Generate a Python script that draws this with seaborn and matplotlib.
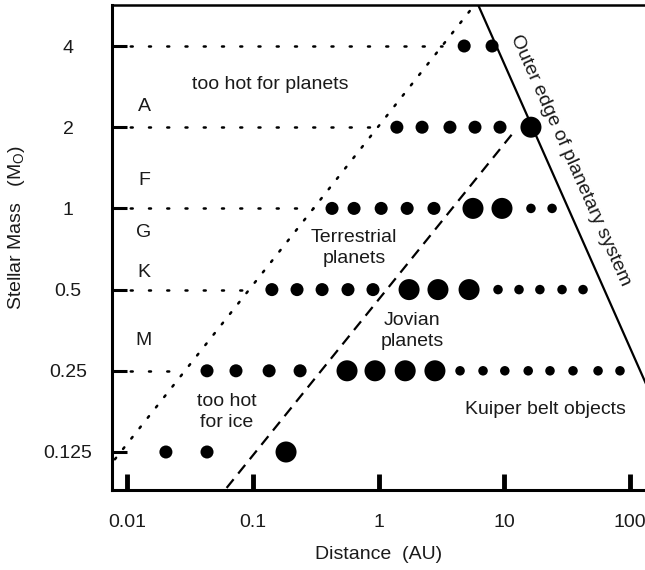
import numpy as np
import pandas as pd
import matplotlib
matplotlib.use('Agg')
import matplotlib.pyplot as plt
import seaborn as sns
from matplotlib.ticker import FixedLocator, FixedFormatter, NullLocator

# Stellar masses (rows) and tick labels
masses = [4, 2, 1, 0.5, 0.25, 0.125]
mass_labels = ['4', '2', '1', '0.5', '0.25', '0.125']
dist_ticks = [0.01, 0.1, 1, 10, 100]
dist_labels = ['0.01', '0.1', '1', '10', '100']

# Bodies on each row: distance (AU) and kind
dist_4 = [4.8, 8.0]
kind_4 = ['rocky', 'rocky']
dist_2 = [1.40, 2.22, 3.70, 5.85, 9.25, 16.3]
kind_2 = ['rocky'] * 5 + ['giant']
dist_1 = [0.427, 0.639, 1.05, 1.69, 2.76, 5.64, 9.59, 16.3, 24.0]
kind_1 = ['rocky'] * 5 + ['giant'] * 2 + ['icy'] * 2
dist_05 = [0.142, 0.225, 0.356, 0.572, 0.904, 1.75, 2.97, 5.25,
           8.92, 13.1, 19.2, 28.8, 42.3]
kind_05 = ['rocky'] * 5 + ['giant'] * 3 + ['icy'] * 5
dist_025 = [0.0433, 0.0736, 0.135, 0.238, 0.562, 0.938, 1.63, 2.81,
            4.45, 6.78, 10.1, 15.5, 23.1, 35.2, 55.7, 83.2]
kind_025 = ['rocky'] * 4 + ['giant'] * 4 + ['icy'] * 8
dist_0125 = [0.0204, 0.0433, 0.184]
kind_0125 = ['rocky', 'rocky', 'giant']

# Boundary lines (distance, mass) end points
hot_line_d = [0.0051, 5.84]     # inner edge, too hot for planets
hot_line_m = [0.09, 5.7]
ice_line_d = [0.062, 11.7]      # snow line
ice_line_m = [0.092, 1.9]
edge_line_d = [6.2, 317]        # outer edge of planetary system
edge_line_m = [5.68, 0.0903]

rows = [(4, dist_4, kind_4), (2, dist_2, kind_2), (1, dist_1, kind_1),
        (0.5, dist_05, kind_05), (0.25, dist_025, kind_025),
        (0.125, dist_0125, kind_0125)]
df = pd.concat([pd.DataFrame({'dist': d, 'mass': m, 'kind': k}) for m, d, k in rows],
               ignore_index=True)

sns.set_style('ticks')
plt.rcParams['font.family'] = ['Liberation Sans', 'DejaVu Sans']
plt.rcParams['mathtext.fontset'] = 'custom'
plt.rcParams['mathtext.rm'] = 'Liberation Sans'
plt.rcParams['mathtext.it'] = 'Liberation Sans'
ink = '#1a1a1a'

fig = plt.figure(figsize=(6.45, 5.70), dpi=100)
ax = fig.add_axes([112 / 645, 80 / 570, 533 / 645, 485 / 570])
ax.set_xscale('log')
ax.set_yscale('log', base=2)
ax.set_xlim(10 ** -2.119, 10 ** 2.119)
ax.set_ylim(2 ** -3.468, 2 ** 2.505)

# horizontal dotted guides up to the inner boundary
hot_logd = np.log10(hot_line_d)
hot_logm = np.log2(hot_line_m)
for m in masses:
    d_end = 10 ** np.interp(np.log2(m), hot_logm, hot_logd)
    ax.plot([ax.get_xlim()[0], d_end], [m, m], color='black', lw=1.8,
            linestyle=(0, (0.8, 6.5)), dash_capstyle='round')

ax.plot(hot_line_d, hot_line_m, color='black', lw=1.8,
        linestyle=(0, (0.8, 4.5)), dash_capstyle='round')
ax.plot(ice_line_d, ice_line_m, color='black', lw=1.6, linestyle=(0, (5, 3.3)))
ax.plot(edge_line_d, edge_line_m, color='black', lw=1.6)

sns.scatterplot(data=df, x='dist', y='mass', size='kind',
                sizes={'rocky': 88, 'giant': 229, 'icy': 47},
                color='black', linewidth=0, legend=False, ax=ax, zorder=3)

fs = 14
ax.text(0.137, 2.87, 'too hot for planets', fontsize=fs, color=ink, ha='center', va='center')
for lab, m in zip(['A', 'F', 'G', 'K', 'M'], [2.38, 1.27, 0.811, 0.581, 0.325]):
    ax.text(0.01365, m, lab, fontsize=fs, color=ink, ha='center', va='center')
ax.text(0.638, 0.713, 'Terrestrial\nplanets', fontsize=fs, color=ink, ha='center',
        va='center', linespacing=1.3)
ax.text(1.85, 0.351, 'Jovian\nplanets', fontsize=fs, color=ink, ha='center',
        va='center', linespacing=1.35)
ax.text(21.1, 0.180, 'Kuiper belt objects', fontsize=fs, color=ink, ha='center', va='center')
ax.text(0.0624, 0.176, 'too hot\nfor ice', fontsize=fs, color=ink, ha='center',
        va='center', linespacing=1.3)
ax.text(33.4, 1.51, 'Outer edge of planetary system', fontsize=fs, color=ink,
        ha='center', va='center', rotation=-66, rotation_mode='anchor')

ax.xaxis.set_major_locator(FixedLocator(dist_ticks))
ax.xaxis.set_major_formatter(FixedFormatter(dist_labels))
ax.xaxis.set_minor_locator(NullLocator())
ax.yaxis.set_major_locator(FixedLocator(masses))
ax.yaxis.set_major_formatter(FixedFormatter(mass_labels))
ax.yaxis.set_minor_locator(NullLocator())
ax.tick_params(axis='x', direction='in', length=11.5, width=3.5, pad=17,
               labelsize=fs, labelcolor=ink, color='black')
ax.tick_params(axis='y', direction='in', length=11, width=2.2, pad=31.7,
               labelsize=fs, labelcolor=ink, color='black')
for lab in ax.get_yticklabels():
    lab.set_ha('center')

ax.set_xlabel('Distance  (AU)', fontsize=fs, color=ink)
ax.set_ylabel(r'Stellar Mass   (M$_\mathrm{O}$)', fontsize=fs, color=ink)
ax.xaxis.set_label_coords(0.5, (490 - 546) / 485)
ax.yaxis.set_label_coords((27 - 112) / 533, (490 - 228) / 485)

ax.spines['right'].set_visible(False)
ax.spines['top'].set_linewidth(1.8)
ax.spines['left'].set_linewidth(2.2)
ax.spines['bottom'].set_linewidth(2.2)
for s in ax.spines.values():
    s.set_color('black')

fig.savefig('out.png', dpi=100)
